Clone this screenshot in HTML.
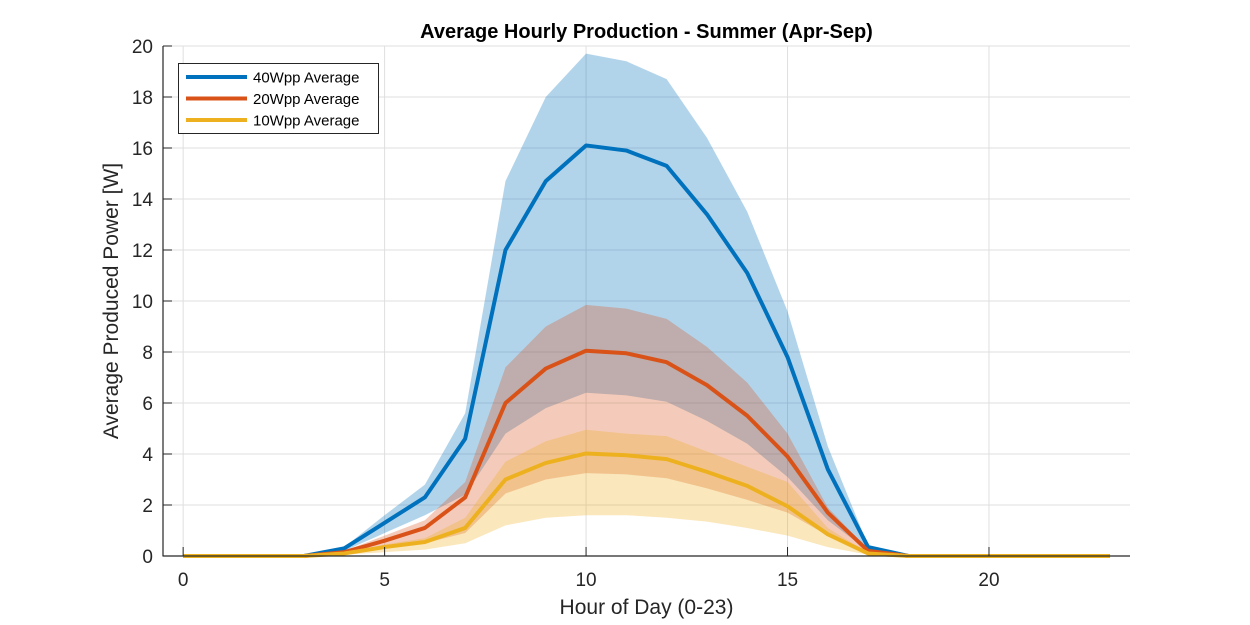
<!DOCTYPE html>
<html><head><meta charset="utf-8"><style>
html,body{margin:0;padding:0;background:#fff;}
svg{display:block;font-family:"Liberation Sans",Arial,sans-serif;}
</style></head><body>
<svg id="chart" width="1250" height="625"></svg>
<script>
const hours = Array.from({length:24},(_,i)=>i);
const blueMean = [0,0,0,0,0.3,1.3,2.3,4.6,12.0,14.7,16.1,15.9,15.3,13.4,11.1,7.8,3.4,0.35,0,0,0,0,0,0];
const blueHi   = [0,0,0,0,0.35,1.6,2.8,5.6,14.7,18.0,19.7,19.4,18.7,16.4,13.5,9.6,4.3,0.4,0,0,0,0,0,0];
const blueLo   = [0,0,0,0,0.2,0.9,1.6,2.4,4.8,5.8,6.4,6.3,6.05,5.3,4.4,3.1,1.4,0.2,0,0,0,0,0,0];
const orangeMean = [0,0,0,0,0.15,0.6,1.1,2.3,6.0,7.35,8.05,7.95,7.6,6.7,5.5,3.9,1.7,0.2,0,0,0,0,0,0];
const orangeHi   = [0,0,0,0,0.2,0.8,1.4,2.9,7.4,9.0,9.85,9.7,9.3,8.2,6.8,4.8,1.9,0.25,0,0,0,0,0,0];
const orangeLo   = [0,0,0,0,0.1,0.3,0.5,0.9,2.45,3.0,3.25,3.2,3.05,2.65,2.2,1.7,0.8,0.1,0,0,0,0,0,0];
const yellowMean = [0,0,0,0,0.1,0.35,0.55,1.1,3.0,3.65,4.02,3.95,3.8,3.3,2.75,1.95,0.85,0.1,0,0,0,0,0,0];
const yellowHi   = [0,0,0,0,0.12,0.45,0.7,1.5,3.7,4.5,4.95,4.8,4.7,4.1,3.5,2.9,1.1,0.12,0,0,0,0,0,0];
const yellowLo   = [0,0,0,0,0.05,0.15,0.25,0.5,1.2,1.5,1.6,1.6,1.5,1.35,1.1,0.8,0.35,0.05,0,0,0,0,0,0];
const xTicks = [0,5,10,15,20];
const yTicks = [0,2,4,6,8,10,12,14,16,18,20];
const legendLabels = ["40Wpp Average","20Wpp Average","10Wpp Average"];

const L=163,R=1130,T=46,B=556;
const X0=-0.5,X1=23.5,Y0=0,Y1=20;
const sx=v=>L+(v-X0)/(X1-X0)*(R-L);
const sy=v=>B-(v-Y0)/(Y1-Y0)*(B-T);
const NS="http://www.w3.org/2000/svg";
const svg=document.getElementById('chart');
function mk(tag,attrs,parent){const e=document.createElementNS(NS,tag);for(const k in attrs)e.setAttribute(k,attrs[k]);(parent||svg).appendChild(e);return e;}

// grid
const grid=mk('g',{});


xTicks.forEach(t=>{const l=mk('line',{x1:sx(t),x2:sx(t),y1:T,y2:B,stroke:'#dfdfdf','stroke-width':1},grid);

});
yTicks.forEach(t=>{const l=mk('line',{x1:L,x2:R,y1:sy(t),y2:sy(t),stroke:'#dfdfdf','stroke-width':1},grid);

});

function band(hi,lo,color,name){
  let d='M'+hours.map(h=>sx(h)+','+sy(hi[h])).join('L');
  d+='L'+hours.slice().reverse().map(h=>sx(h)+','+sy(lo[h])).join('L')+'Z';
  const p=mk('path',{d:d,fill:color,'fill-opacity':0.3,stroke:'none'});
  
  
}
function line(vals,color,name){
  const p=mk('polyline',{points:hours.map(h=>sx(h)+','+sy(vals[h])).join(' '),fill:'none',stroke:color,'stroke-width':4,'stroke-linejoin':'round'});
  
  
}
band(blueHi,blueLo,'#0072BD','band-40wpp');
band(orangeHi,orangeLo,'#D95319','band-20wpp');
band(yellowHi,yellowLo,'#EDB120','band-10wpp');
line(blueMean,'#0072BD','line-40wpp');
line(orangeMean,'#D95319','line-20wpp');
line(yellowMean,'#EDB120','line-10wpp');

// axes
const ax=mk('g',{});


mk('line',{x1:L,x2:L,y1:T,y2:B+0.5,stroke:'#262626','stroke-width':1.2},ax);
mk('line',{x1:L,x2:R,y1:B,y2:B,stroke:'#262626','stroke-width':1.2},ax);
xTicks.forEach(t=>{
  mk('line',{x1:sx(t),x2:sx(t),y1:B,y2:B-9,stroke:'#262626','stroke-width':1},ax);
  const tx=mk('text',{x:sx(t),y:B+30,'text-anchor':'middle','font-size':19,fill:'#262626'},ax);
  tx.textContent=t;
  
  
});
yTicks.forEach(t=>{
  mk('line',{x1:L,x2:L+9,y1:sy(t),y2:sy(t),stroke:'#262626','stroke-width':1},ax);
  const tx=mk('text',{x:L-10,y:sy(t)+7,'text-anchor':'end','font-size':19,fill:'#262626'},ax);
  tx.textContent=t;
  
  
});

const title=mk('text',{x:(L+R)/2,y:38,'text-anchor':'middle','font-size':20,'font-weight':'bold',fill:'#000'});
title.textContent='Average Hourly Production - Summer (Apr-Sep)';


const xl=mk('text',{x:(L+R)/2,y:614,'text-anchor':'middle','font-size':21,fill:'#262626'});
xl.textContent='Hour of Day (0-23)';


const yl=mk('text',{x:0,y:0,'text-anchor':'middle','font-size':21,fill:'#262626',transform:'translate(118,'+((T+B)/2)+') rotate(-90)'});
yl.textContent='Average Produced Power [W]';



// legend
const lg=mk('g',{});


mk('rect',{x:178.5,y:63.5,width:200,height:70,fill:'#fff',stroke:'#262626','stroke-width':1},lg);
const lc=['#0072BD','#D95319','#EDB120'];
legendLabels.forEach((lab,i)=>{
  const y=77+i*21.5;
  mk('line',{x1:186,x2:247,y1:y,y2:y,stroke:lc[i],'stroke-width':4},lg);
  const t=mk('text',{x:253,y:y+5.5,'font-size':15,fill:'#000'},lg);
  t.textContent=lab;
  
  
});
</script>
</body></html>
